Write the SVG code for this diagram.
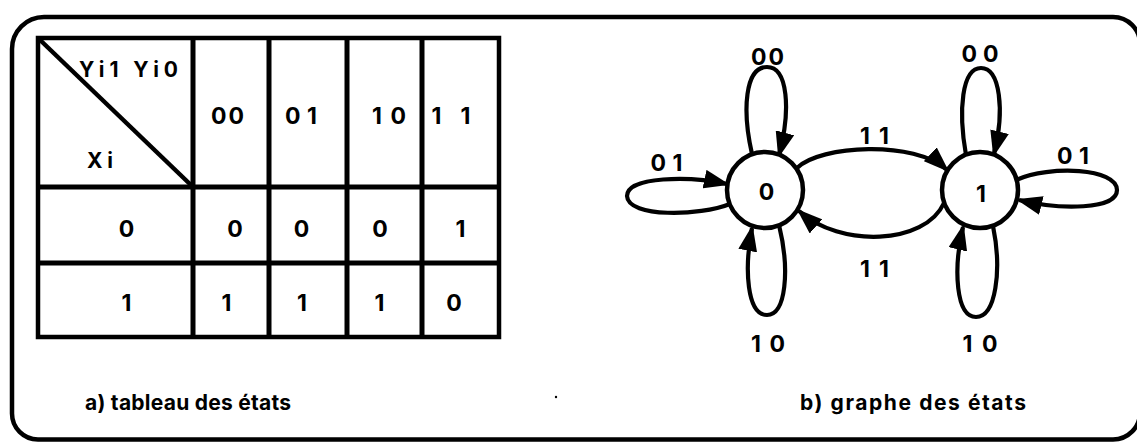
<svg xmlns="http://www.w3.org/2000/svg" width="1137" height="442" viewBox="0 0 1137 442">
<style>
  .ln{fill:none;stroke:#000;stroke-width:4.5;stroke-linejoin:round}
  .tb{fill:none;stroke:#000;stroke-width:5}
  .tbo{fill:none;stroke:#000;stroke-width:4.5}
  .st{fill:#fff;stroke:#000;stroke-width:4.5}
  .ed{fill:none;stroke:#000;stroke-width:4.2;marker-end:url(#arr)}
  .t{font-family:Inter,"Liberation Sans",Arial,sans-serif;font-weight:bold;font-size:23px;fill:#000;text-anchor:middle}
  .h{font-family:Inter,"Liberation Sans",Arial,sans-serif;font-weight:bold;font-size:21px;fill:#000;text-anchor:middle}
  .cap{font-family:Inter,"Liberation Sans",Arial,sans-serif;font-weight:bold;font-size:21px;fill:#000}
</style>
<defs>
  <marker id="arr" markerUnits="userSpaceOnUse" markerWidth="26" markerHeight="19" viewBox="0 0 26 19" refX="23" refY="9.5" orient="auto">
    <path d="M0,0 L26,9.5 L0,19 z" fill="#000"/>
  </marker>
</defs>
<rect width="1137" height="442" fill="#fff"/>
<g id="frame">
  <path class="ln" d="M12,49 A32,32 0 0 1 44,17 H1113 A27,27 0 0 1 1140,44 V412 A27,27 0 0 1 1113,439.5 H38 A26,26 0 0 1 12,413.5 Z"/>
</g>
<g id="table">
  <rect class="tbo" x="38" y="38" width="461" height="299"/>
  <line class="tb" x1="38" y1="187" x2="499" y2="187"/>
  <line class="tb" x1="38" y1="263" x2="499" y2="263"/>
  <line class="tb" x1="193" y1="38" x2="193" y2="337"/>
  <line class="tb" x1="269" y1="38" x2="269" y2="337"/>
  <line class="tb" x1="347" y1="38" x2="347" y2="337"/>
  <line class="tb" x1="422" y1="38" x2="422" y2="337"/>
  <line class="tbo" x1="38" y1="38" x2="193" y2="187"/>
  <text class="h" x="128.5" y="77" textLength="99" lengthAdjust="spacing">Yi1 Yi0</text>
  <text class="h" x="100" y="168" textLength="26" lengthAdjust="spacing">Xi</text>
  <text class="t" x="227.5" y="124" textLength="33" lengthAdjust="spacing">00</text>
  <text class="t" x="301" y="124" textLength="32" lengthAdjust="spacing">01</text>
  <text class="t" x="389" y="124" textLength="34" lengthAdjust="spacing">10</text>
  <text class="t" x="451" y="124" textLength="39" lengthAdjust="spacing">11</text>
  <text class="t" x="126.5" y="237">0</text>
  <text class="t" x="235" y="237">0</text>
  <text class="t" x="301.5" y="237">0</text>
  <text class="t" x="380" y="237">0</text>
  <text class="t" x="460.5" y="237">1</text>
  <text class="t" x="126.5" y="311">1</text>
  <text class="t" x="226.5" y="311">1</text>
  <text class="t" x="302" y="311">1</text>
  <text class="t" x="379.5" y="311">1</text>
  <text class="t" x="454" y="311">0</text>
</g>
<g id="connectors">
  <path class="ed" d="M752,154 C742,110 745,67 767,67 C788,67 791,110 779,155"/>
  <path class="ed" d="M730,204 C700,216 628,218 627,196 C627,176 690,176 727,184"/>
  <path class="ed" d="M779,225 C790,270 786,315 767,315 C747,315 744,270 752,228"/>
  <path class="ed" d="M797,168 C820,145 915,140 947,170"/>
  <path class="ed" d="M944,203 C925,245 840,248 799,211"/>
  <path class="ed" d="M966,155 C958,110 962,68 981,68 C1000,68 1005,110 994,154"/>
  <path class="ed" d="M1016,180 C1050,165 1117,168 1117,190 C1117,210 1060,210 1019,200"/>
  <path class="ed" d="M993,226 C1002,270 996,317 976,317 C956,317 953,270 963,227"/>
  <text class="t" x="767.5" y="65" textLength="33" lengthAdjust="spacing">00</text>
  <text class="t" x="666.5" y="171" textLength="32" lengthAdjust="spacing">01</text>
  <text class="t" x="768" y="352" textLength="34" lengthAdjust="spacing">10</text>
  <text class="t" x="874.5" y="144" textLength="29" lengthAdjust="spacing">11</text>
  <text class="t" x="874.5" y="277" textLength="29" lengthAdjust="spacing">11</text>
  <text class="t" x="980" y="62" textLength="37" lengthAdjust="spacing">00</text>
  <text class="t" x="1073" y="164" textLength="32" lengthAdjust="spacing">01</text>
  <text class="t" x="980" y="352" textLength="35" lengthAdjust="spacing">10</text>
</g>
<g id="state0">
  <circle class="st" cx="765" cy="190" r="38"/>
  <text class="t" x="766.5" y="200">0</text>
</g>
<g id="state1">
  <circle class="st" cx="980" cy="190" r="38"/>
  <text class="t" x="981" y="202">1</text>
</g>
<g id="captions">
  <text class="cap" x="85" y="410" textLength="206" lengthAdjust="spacing">a) tableau des états</text>
  <text class="cap" x="800" y="410" textLength="226" lengthAdjust="spacing">b) graphe des états</text>
  <circle cx="556" cy="397" r="1.2" fill="#000"/>
</g>
</svg>
